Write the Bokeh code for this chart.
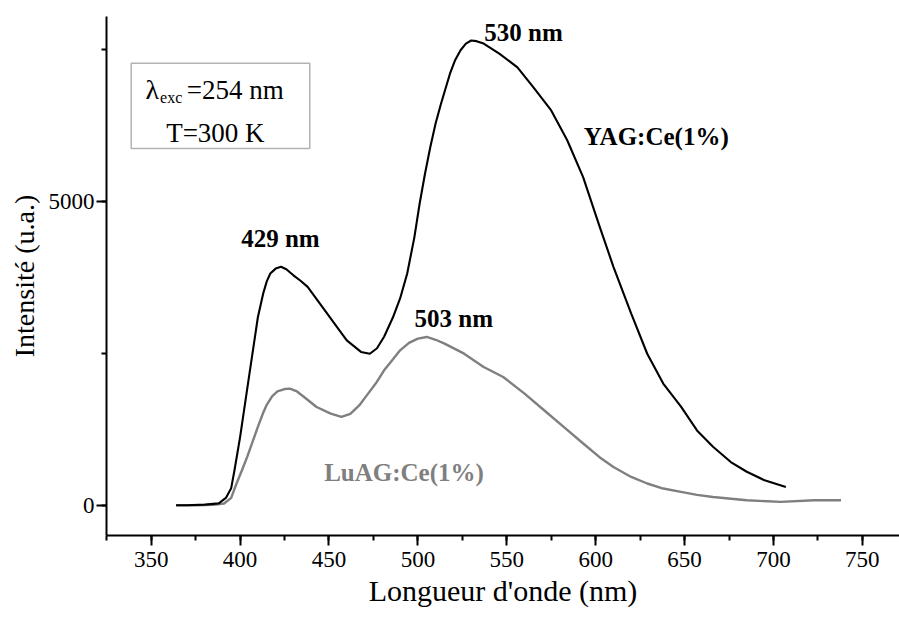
from bokeh.plotting import figure
from bokeh.models import Range1d, SingleIntervalTicker, Label, BoxAnnotation
from bokeh.embed import file_html
from bokeh.resources import INLINE

# --- data ---
yag_nm = [364, 370, 380, 388, 392, 395, 397, 400, 405, 410, 413, 415, 417, 420, 423, 426, 430, 434, 438,
          445, 453, 460, 468, 473, 477, 481, 486, 490, 494, 498, 501, 504, 507, 510, 513, 518, 521, 524, 527, 530,
          533, 537, 546, 556, 565, 575, 584, 593, 602, 610, 620, 629, 638, 648, 657, 666,
          676, 685, 695, 707]
yag_int = [0, 0, 10, 30, 120, 280, 600, 1120, 2110, 3090, 3480, 3680, 3810, 3890, 3920, 3880, 3780, 3690, 3590,
           3310, 2990, 2710, 2520, 2490, 2580, 2770, 3090, 3400, 3810, 4400, 4960, 5450, 5890, 6280, 6600, 7090, 7320, 7480, 7590, 7640,
           7630, 7590, 7420, 7200, 6870, 6490, 6000, 5390, 4600, 3920, 3150, 2490, 2000, 1620, 1230, 960,
           710, 550, 410, 300]

luag_nm = [364, 375, 385, 391, 395, 398, 401, 404, 407, 410, 413, 415, 418, 421, 425, 428, 432, 436, 443, 451, 457,
           462, 467, 472, 477, 481, 486, 490, 495, 500, 505, 510, 515, 526, 537, 548, 560, 571, 582, 593,
           602, 610, 620, 629, 638, 648, 657, 666, 685, 704, 723, 738]
luag_int = [0, 0, 5, 28, 120, 357, 570, 794, 1040, 1287, 1520, 1650, 1790, 1870, 1910, 1917, 1870, 1780, 1615, 1506, 1451,
            1500, 1640, 1835, 2030, 2218, 2400, 2547, 2670, 2739, 2766, 2720, 2657, 2492, 2273, 2108, 1835, 1561, 1287, 1014,
            794, 629, 465, 357, 274, 219, 170, 136, 82, 54, 82, 82]

x_ticks_step = 50
y_ticks_step = 5000

FONT = "Liberation Serif"
GRAY = "#7f7f7f"

p = figure(width=899, height=619, output_backend="svg", toolbar_location=None,
           x_range=Range1d(324.86, 770.9), y_range=Range1d(-498, 8035),
           min_border_left=106, min_border_right=0, min_border_top=16, min_border_bottom=84)
p.outline_line_color = None
p.xgrid.visible = False
p.ygrid.visible = False
p.background_fill_color = "white"

p.line(luag_nm, luag_int, line_color=GRAY, line_width=2.4)
p.line(yag_nm, yag_int, line_color="black", line_width=2.1)

for ax in (p.xaxis[0], p.yaxis[0]):
    ax.axis_line_width = 2
    ax.major_tick_line_width = 2
    ax.minor_tick_line_width = 2
    ax.major_tick_in = 0
    ax.minor_tick_in = 0
    ax.major_tick_out = 10
    ax.minor_tick_out = 5
    ax.major_label_text_font = FONT
    ax.major_label_text_font_size = "23px"
    ax.major_label_text_color = "black"
    ax.axis_label_text_font = FONT
    ax.axis_label_text_font_style = "normal"
    ax.axis_label_text_color = "black"

p.xaxis[0].axis_label_text_font_size = "30px"
p.yaxis[0].axis_label_text_font_size = "28px"
p.xaxis[0].ticker = SingleIntervalTicker(interval=x_ticks_step, num_minor_ticks=2)
p.yaxis[0].ticker = SingleIntervalTicker(interval=y_ticks_step, num_minor_ticks=2)
p.xaxis[0].axis_label = "Longueur d'onde (nm)"
p.yaxis[0].axis_label = "Intensité (u.a.)"
p.xaxis[0].major_label_standoff = 6
p.xaxis[0].axis_label_standoff = 4
p.yaxis[0].major_label_standoff = 2
p.yaxis[0].axis_label_standoff = 6
p.yaxis[0].major_label_orientation = "horizontal"

# peak / series annotations
def lab(x, y, t, color="black", bold=True, size="25px", align="center", baseline="middle"):
    p.add_layout(Label(x=x, y=y, text=t, text_font=FONT, text_font_size=size,
                       text_font_style="bold" if bold else "normal", text_color=color,
                       text_align=align, text_baseline=baseline))

lab(559.4, 7772, "530 nm")
lab(422.7, 4387, "429 nm")
lab(520.2, 3073, "503 nm")
lab(634.1, 6063, "YAG:Ce(1%)")
lab(492.2, 542, "LuAG:Ce(1%)", color=GRAY)

# inset box
p.add_layout(BoxAnnotation(left=338.75, right=439.2, top=7268, bottom=5866,
                           fill_alpha=0, line_color="black", line_width=1.5))
lab(346.8, 6830, "λ", bold=False, size="28px", align="left", baseline="alphabetic")
lab(355.0, 6700, "exc", bold=False, size="16px", align="left", baseline="alphabetic")
lab(370.0, 6830, "=254 nm", bold=False, size="27px", align="left", baseline="alphabetic")
lab(386.1, 6112, "T=300 K", bold=False, size="27px", align="center", baseline="alphabetic")

open("out.html", "w").write(file_html(p, INLINE))
